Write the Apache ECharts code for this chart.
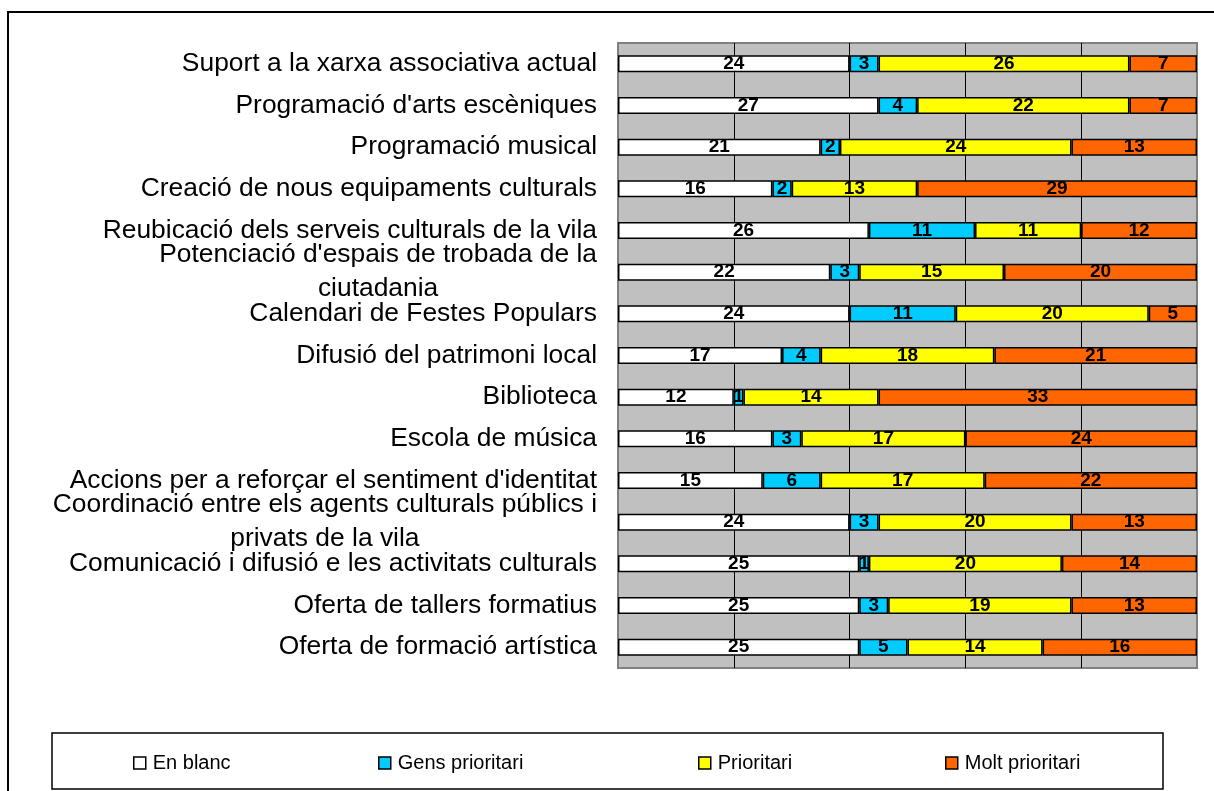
<!DOCTYPE html>
<html>
<head>
<meta charset="utf-8">
<script src="https://cdn.jsdelivr.net/npm/echarts@6/dist/echarts.min.js"></script>
<style>html,body{margin:0;padding:0;background:#fff}#c{width:1214px;height:791px}</style>
</head>
<body>
<div id="c"></div>
<script>
const categories = [
  'Suport a la xarxa associativa actual',
  "Programació d'arts escèniques",
  'Programació musical',
  'Creació de nous equipaments culturals',
  'Reubicació dels serveis culturals de la vila',
  "Potenciació d'espais de trobada de la\nciutadania",
  'Calendari de Festes Populars',
  'Difusió del patrimoni local',
  'Biblioteca',
  'Escola de música',
  "Accions per a reforçar el sentiment d'identitat",
  'Coordinació entre els agents culturals públics i\nprivats de la vila',
  'Comunicació i difusió e les activitats culturals',
  'Oferta de tallers formatius',
  'Oferta de formació artística'
];
const seriesNames = ['En blanc', 'Gens prioritari', 'Prioritari', 'Molt prioritari'];
const enBlanc       = [24, 27, 21, 16, 26, 22, 24, 17, 12, 16, 15, 24, 25, 25, 25];
const gensPrioritari = [3, 4, 2, 2, 11, 3, 11, 4, 1, 3, 6, 3, 1, 3, 5];
const prioritari    = [26, 22, 24, 13, 11, 15, 20, 18, 14, 17, 17, 20, 20, 19, 14];
const moltPrioritari = [7, 7, 13, 29, 12, 20, 5, 21, 33, 24, 22, 13, 14, 13, 16];
const colors = ['#FFFFFF', '#00CCFF', '#FFFF00', '#FF6600'];
const values = [enBlanc, gensPrioritari, prioritari, moltPrioritari];

const chart = echarts.init(document.getElementById('c'), null, {renderer: 'canvas'});
const FONT = "'Liberation Sans', Arial, sans-serif";

const series = seriesNames.map((name, i) => ({
  name: name,
  type: 'bar',
  stack: 'total',
  barWidth: 17,
  data: values[i],
  itemStyle: {color: colors[i], borderColor: '#000', borderWidth: 1.5},
  label: {
    show: true,
    position: 'inside',
    color: '#000',
    fontFamily: FONT,
    fontWeight: 'bold',
    fontSize: 19
  }
}));

const legendLefts = [128, 373, 693, 940];
const legends = seriesNames.map((n, i) => ({
  data: [n],
  left: legendLefts[i],
  top: 748,
  icon: 'rect',
  itemWidth: 12,
  itemHeight: 12,
  selectedMode: false,
  itemStyle: {borderColor: '#000', borderWidth: 1.5},
  textStyle: {fontFamily: FONT, fontSize: 20, color: '#000', padding: [0, 0, 0, 2]}
}));

chart.setOption({
  animation: false,
  backgroundColor: '#fff',
  grid: {
    left: 618, right: 17, top: 43, bottom: 123,
    show: true,
    backgroundColor: '#C0C0C0',
    borderColor: '#808080',
    borderWidth: 2
  },
  xAxis: {
    type: 'value',
    min: 0, max: 60, interval: 12,
    axisLabel: {show: false},
    axisLine: {show: false},
    axisTick: {show: false},
    splitLine: {show: true, lineStyle: {color: ['#808080', '#000', '#000', '#000', '#000', '#808080'], width: 1}}
  },
  yAxis: {
    type: 'category',
    inverse: true,
    data: categories,
    axisLine: {show: false},
    axisTick: {show: false},
    axisLabel: {
      margin: 21,
      fontFamily: FONT,
      fontSize: 26.4,
      color: '#000',
      lineHeight: 34,
      formatter: v => v.split('\n').map(s => '{c|' + s + '}').join('\n'),
      rich: {c: {align: 'center', fontFamily: FONT, fontSize: 26.4, color: '#000', lineHeight: 34}}
    }
  },
  legend: legends,
  graphic: [
    {type: 'rect', shape: {x: 8, y: 12, width: 1230, height: 800}, style: {fill: 'none', stroke: '#000', lineWidth: 2}, silent: true},
    {type: 'rect', shape: {x: 52, y: 733, width: 1111, height: 56}, style: {fill: 'none', stroke: '#000', lineWidth: 1.5}, silent: true}
  ],
  series: series
});
</script>
</body>
</html>
